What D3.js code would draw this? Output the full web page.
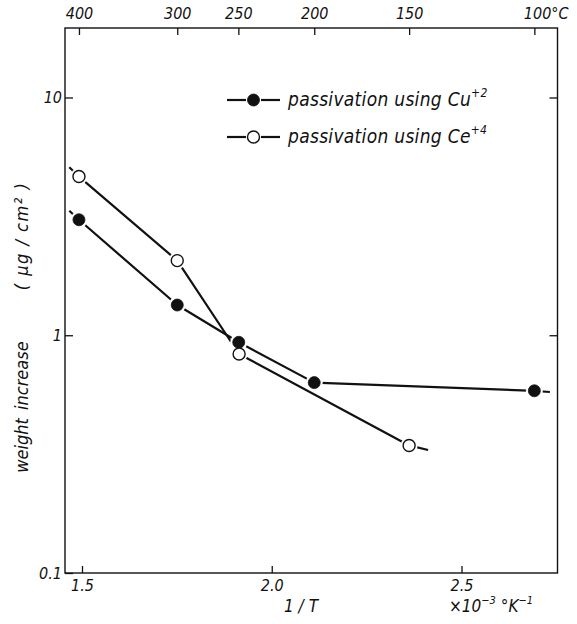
<!DOCTYPE html>
<html>
<head>
<meta charset="utf-8">
<script src="https://cdn.jsdelivr.net/npm/d3@7"></script>
<style>
  body { margin: 0; background: #fff; }
  svg text {
    font-family: "Liberation Sans Narrow", "DejaVu Sans Condensed", "Liberation Sans", sans-serif;
    font-style: italic;
    fill: #111;
  }
</style>
</head>
<body>
<svg id="chart" width="577" height="624"></svg>
<script>
// Reciprocal temperature (10^-3 K^-1) and weight gain (µg/cm²)
const cuInvT   = [1.4665, 1.492, 1.751, 1.913, 2.112, 2.692, 2.733];
const cuWeight = [3.34,   3.06,  1.34,  0.934, 0.632, 0.584, 0.577];
const cuMarked = [false,  true,  true,  true,  true,  true,  false];

const ceInvT   = [1.4665, 1.492, 1.751, 1.914, 2.362, 2.412];
const ceWeight = [5.09,   4.65,  2.06,  0.834, 0.344, 0.329];
const ceMarked = [false,  true,  true,  true,  true,  false];

// Axis ticks
const xTicks = [1.5, 2.0, 2.5];
const yTicks = [0.1, 1, 10];
const yTickLabels = ["0.1", "1", "10"];
const celsiusLabels = ["400", "300", "250", "200", "150", "100"];
const celsiusAt     = [1.492, 1.751, 1.912, 2.112, 2.362, 2.692];

const legendLabels = ["passivation using  Cu", "passivation using  Ce"];
const legendCharges = ["+2", "+4"];

const W = 577, H = 624;
const m = { left: 65, right: 557.5, top: 28, bottom: 573 };

const svg = d3.select("#chart");

const x = d3.scaleLinear().domain([1.4552, 2.753]).range([m.left, m.right]);
const y = d3.scaleLog().domain([0.1, 19.6]).range([m.bottom, m.top]);

const ink = "#111";

// Frame
svg.append("rect")
  .attr("x", m.left).attr("y", m.top)
  .attr("width", m.right - m.left).attr("height", m.bottom - m.top)
  .attr("fill", "none").attr("stroke", ink).attr("stroke-width", 1.4);

function styleAxis(g) {
  g.select(".domain").remove();
  g.selectAll(".tick line").attr("stroke", ink).attr("stroke-width", 1.3);
  g.selectAll(".tick text").attr("fill", ink).style("font-size", "16px");
}

// Bottom axis
svg.append("g")
  .attr("transform", `translate(0,${m.bottom})`)
  .call(d3.axisBottom(x).tickValues(xTicks).tickSize(-7).tickPadding(7).tickFormat(d3.format(".1f")))
  .call(styleAxis);

// Top axis (Celsius)
const topAxis = svg.append("g")
  .attr("transform", `translate(0,${m.top})`)
  .call(d3.axisTop(x).tickValues(celsiusAt).tickSize(-7).tickPadding(9)
        .tickFormat((d, i) => celsiusLabels[i]))
  .call(styleAxis);
topAxis.selectAll(".tick").filter((d, i) => i === celsiusAt.length - 1)
  .select("text")
  .attr("text-anchor", "start").attr("x", -11)
  .text(celsiusLabels[celsiusLabels.length - 1] + "°C");

// Left axis
svg.append("g")
  .attr("transform", `translate(${m.left},0)`)
  .call(d3.axisLeft(y).tickValues(yTicks).tickSize(-8).tickPadding(3)
        .tickFormat((d, i) => yTickLabels[i]))
  .call(styleAxis);

// Right axis
svg.append("g")
  .attr("transform", `translate(${m.right},0)`)
  .call(d3.axisRight(y).tickValues([1, 10]).tickSize(-8).tickFormat(""))
  .call(styleAxis);

// Series
const series = [
  { xs: cuInvT, ys: cuWeight, marked: cuMarked, filled: true },
  { xs: ceInvT, ys: ceWeight, marked: ceMarked, filled: false }
];

const line = d3.line().x(d => x(d[0])).y(d => y(d[1]));

series.forEach(s => {
  const pts = s.xs.map((v, i) => [v, s.ys[i]]);
  svg.append("path")
    .attr("d", line(pts))
    .attr("fill", "none").attr("stroke", ink)
    .attr("stroke-width", 2.2).attr("stroke-linejoin", "round");
});

series.forEach(s => {
  const pts = s.xs.map((v, i) => [v, s.ys[i], s.marked[i]]).filter(p => p[2]);
  // white halo keeps a small gap between line and marker
  svg.append("g").selectAll("circle").data(pts).join("circle")
    .attr("cx", d => x(d[0])).attr("cy", d => y(d[1])).attr("r", 8.5)
    .attr("fill", "#fff");
});

series.forEach(s => {
  const pts = s.xs.map((v, i) => [v, s.ys[i], s.marked[i]]).filter(p => p[2]);
  svg.append("g").selectAll("circle").data(pts).join("circle")
    .attr("cx", d => x(d[0])).attr("cy", d => y(d[1]))
    .attr("r", 6)
    .attr("fill", s.filled ? ink : "#fff")
    .attr("stroke", ink).attr("stroke-width", s.filled ? 0.8 : 1.4);
});

// Legend
const legend = svg.append("g").attr("transform", "translate(227,100)");
legendLabels.forEach((lab, i) => {
  const g = legend.append("g").attr("transform", `translate(0,${i * 37})`);
  g.append("line").attr("x1", 0).attr("x2", 19).attr("stroke", ink).attr("stroke-width", 2.2);
  g.append("line").attr("x1", 34).attr("x2", 53).attr("stroke", ink).attr("stroke-width", 2.2);
  g.append("circle").attr("cx", 26.5).attr("r", 6)
    .attr("fill", i === 0 ? ink : "#fff").attr("stroke", ink).attr("stroke-width", i === 0 ? 0.8 : 1.4);
  const t = g.append("text").attr("x", 61).attr("y", 6).style("font-size", "19px")
    .style("letter-spacing", "0.3px").text(lab);
  t.append("tspan").attr("dy", -9).style("font-size", "12px").text(legendCharges[i]);
});

// Axis titles
svg.append("text")
  .attr("x", 301).attr("y", 612).attr("text-anchor", "middle")
  .style("font-size", "17px").text("1 / T");

const unit = svg.append("text").attr("x", 449).attr("y", 612).style("font-size", "17px");
unit.append("tspan").text("×10");
unit.append("tspan").attr("dy", -8).style("font-size", "11px").text("−3");
unit.append("tspan").attr("dy", 8).text("  °K");
unit.append("tspan").attr("dy", -8).style("font-size", "11px").text("−1");

svg.append("text")
  .attr("transform", "translate(28,407) rotate(-90)")
  .attr("text-anchor", "middle")
  .style("font-size", "18px")
  .text("weight\u2002increase");

svg.append("text")
  .attr("transform", "translate(28,236) rotate(-90)")
  .attr("text-anchor", "middle")
  .style("font-size", "18px")
  .style("letter-spacing", "1.5px")
  .text("( μg / cm² )");
</script>
</body>
</html>
